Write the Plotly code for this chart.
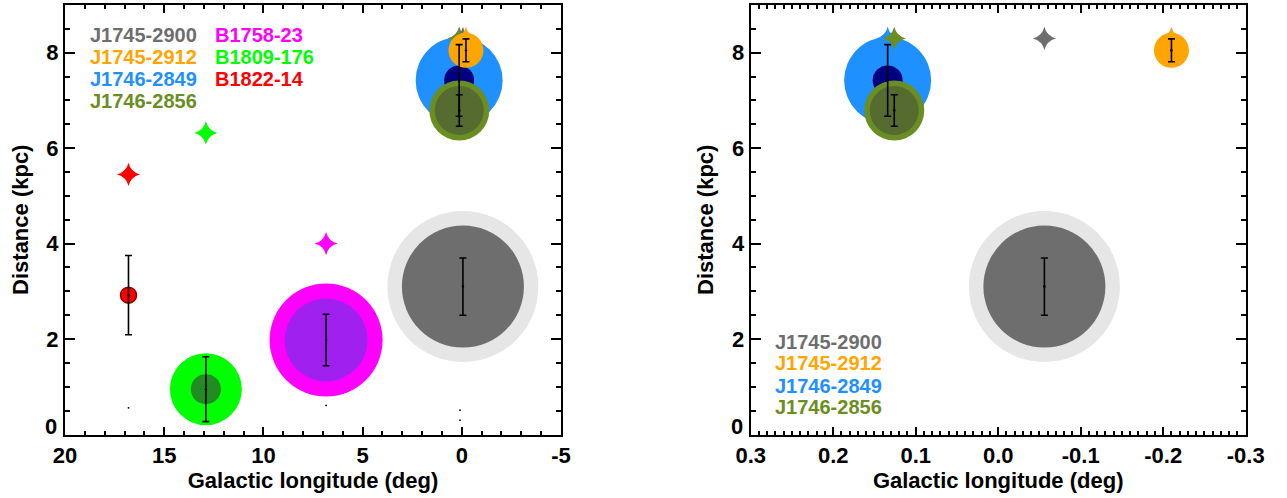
import plotly.graph_objects as go

# ---------------- data ----------------
names = ["J1745-2900", "J1745-2912", "J1746-2849", "J1746-2856",
         "B1758-23", "B1809-176", "B1822-14"]
gal_lon = [-0.056, -0.21, 0.134, 0.126, 6.84, 12.9, 16.8]      # deg
dist = [3.1, 8.05, 7.42, 6.79, 1.98, 0.95, 2.92]                # kpc (circle centre)
dist_err = [0.6, 0.24, 0.75, 0.33, 0.54, 0.68, 0.83]            # kpc
star_dist = [8.3, 8.3, 8.3, 8.3, 4.0, 6.32, 5.45]               # kpc (star marker)

dot_lon = [16.8, 6.84, 0.09, 0.09]
dot_dist = [0.56, 0.61, 0.51, 0.30]

left_xticks = [20, 15, 10, 5, 0, -5]
left_xtext = ["20", "15", "10", "5", "0", "-5"]
right_xticks = [0.3, 0.2, 0.1, 0.0, -0.1, -0.2, -0.3]
right_xtext = ["0.3", "0.2", "0.1", "0.0", "-0.1", "-0.2", "-0.3"]
yticks = [0, 2, 4, 6, 8]
ytext = ["0", "2", "4", "6", "8"]

# ---------------- styles ----------------
FONT = "Liberation Sans, Arial, Helvetica, sans-serif"
text_color = ["#6e6e6e", "#ffa500", "#1e90ff", "#6b8e23", "#ff00ff", "#00ff00", "#ff0000"]
outer_color = ["#e6e6e6", "#ffa500", "#1e90ff", "#6b8e23", "#ff00ff", "#00ff00", "#ff0000"]
inner_color = ["#6e6e6e", None, "#000080", "#556b2f", "#a020f0", "#228b22", None]
star_color = ["#6e6e6e", "#ffa500", "#1e90ff", "#6b8e23", "#ff00ff", "#00ff00", "#ff0000"]
outer_size = [151, 35, 87, 60, 113, 72, 16]
inner_size = [122, 0, 30, 49, 83, 30, 0]
STAR_SIZE = 16.6
W, H = 1287, 498

fig = go.Figure()


def circle(i, xa, ya):
    line = dict(width=0)
    if names[i] == "B1822-14":
        line = dict(width=1.5, color="#8b0000")
    fig.add_trace(go.Scatter(x=[gal_lon[i]], y=[dist[i]], mode="markers", xaxis=xa, yaxis=ya,
                             marker=dict(size=outer_size[i], color=outer_color[i], line=line),
                             showlegend=False, hoverinfo="skip"))
    if inner_color[i] is not None and inner_size[i] > 0:
        fig.add_trace(go.Scatter(x=[gal_lon[i]], y=[dist[i]], mode="markers", xaxis=xa, yaxis=ya,
                                 marker=dict(size=inner_size[i], color=inner_color[i], line=dict(width=0)),
                                 showlegend=False, hoverinfo="skip"))


def star(i, xa, ya):
    fig.add_trace(go.Scatter(x=[gal_lon[i]], y=[star_dist[i]], mode="markers", xaxis=xa, yaxis=ya,
                             marker=dict(symbol="star-diamond", size=STAR_SIZE, color=star_color[i],
                                         line=dict(width=0)),
                             showlegend=False, hoverinfo="skip"))


def errbar(i, xa, ya):
    fig.add_trace(go.Scatter(x=[gal_lon[i]], y=[dist[i]], mode="markers", xaxis=xa, yaxis=ya,
                             marker=dict(size=2.5, color="black"),
                             error_y=dict(type="data", array=[dist_err[i]], color="black",
                                          thickness=1.6, width=3.5),
                             showlegend=False, hoverinfo="skip"))


for xa, ya, srcs in (("x", "y", range(7)), ("x2", "y2", range(4))):
    for i in (0, 2, 3):
        circle(i, xa, ya)
    for i in (0, 1, 2, 3):
        star(i, xa, ya)
    circle(1, xa, ya)
    if xa == "x":
        for i in (4, 5, 6):
            circle(i, xa, ya)
            star(i, xa, ya)
    for i in srcs:
        errbar(i, xa, ya)

fig.add_trace(go.Scatter(x=dot_lon, y=dot_dist, mode="markers", xaxis="x", yaxis="y",
                         marker=dict(size=1.8, color="black"), showlegend=False, hoverinfo="skip"))


def axis_common():
    return dict(showline=True, linecolor="black", linewidth=2, mirror="ticks",
                ticks="inside", tickcolor="black", tickwidth=1.5,
                showgrid=False, zeroline=False, automargin=False,
                tickfont=dict(family=FONT, size=22, color="black", weight="bold"))


title_font = dict(family=FONT, size=22, color="black", weight="bold")
tick_font = dict(family=FONT, size=22, color="black", weight="bold")

xl = axis_common()
xl.update(domain=[65 / W, 561 / W], range=[20, -5], anchor="y",
          tickmode="array", tickvals=left_xticks, ticktext=left_xtext, ticklen=8,
          minor=dict(ticks="inside", ticklen=4, tickwidth=1.5, tickcolor="black", dtick=1, tick0=0, showgrid=False),
          title=dict(text="Galactic longitude (deg)", font=title_font, standoff=4))
xr = axis_common()
xr.update(domain=[750.7 / W, 1245.7 / W], range=[0.3, -0.3], anchor="y2",
          tickmode="array", tickvals=right_xticks, ticktext=right_xtext, ticklen=8,
          minor=dict(ticks="inside", ticklen=4, tickwidth=1.5, tickcolor="black", dtick=0.01, tick0=0, showgrid=False),
          title=dict(text="Galactic longitude (deg)", font=title_font, standoff=4))

# the lowest y label ("0") is drawn slightly raised, as in the original, via an annotation
ytext_axis = ["" if t == "0" else t for t in ytext]
ydom = [1 - 434.5 / H, 1 - 5 / H]
yl = axis_common()
yl.update(domain=ydom, range=[0, 9], anchor="x", tickmode="array", tickvals=yticks, ticktext=ytext_axis,
          ticklen=10,
          minor=dict(ticks="inside", ticklen=5, tickwidth=1.5, tickcolor="black", dtick=0.5, tick0=0, showgrid=False),
          title=dict(text="Distance (kpc)", font=title_font, standoff=12))
yr = axis_common()
yr.update(domain=ydom, range=[0, 9], anchor="x2", tickmode="array", tickvals=yticks, ticktext=ytext_axis,
          ticklen=10,
          minor=dict(ticks="inside", ticklen=5, tickwidth=1.5, tickcolor="black", dtick=0.5, tick0=0, showgrid=False),
          title=dict(text="Distance (kpc)", font=title_font, standoff=12))

annotations = []
for xref, yref, xdom in (("x domain", "y", xl["domain"]), ("x2 domain", "y2", xr["domain"])):
    annotations.append(dict(text=ytext[0], x=0, y=yticks[0], xref=xref, yref=yref,
                            xanchor="right", yanchor="middle", xshift=-6, yshift=8,
                            showarrow=False, font=tick_font))

left_pos = [(88.3, 35), (88.3, 57.3), (88.3, 79.3), (88.3, 101),
            (212.7, 35), (212.7, 57.3), (212.7, 79.3)]
for i, (px, py) in enumerate(left_pos):
    annotations.append(dict(text=names[i], x=px / W, y=1 - py / H, xref="paper", yref="paper",
                            xanchor="left", yanchor="middle", showarrow=False,
                            font=dict(family=FONT, size=20, color=text_color[i], weight="bold")))
right_pos = [(773.3, 341.7), (773.3, 363.3), (773.3, 385.7), (773.3, 407.3)]
for i, (px, py) in enumerate(right_pos):
    annotations.append(dict(text=names[i], x=px / W, y=1 - py / H, xref="paper", yref="paper",
                            xanchor="left", yanchor="middle", showarrow=False,
                            font=dict(family=FONT, size=20, color=text_color[i], weight="bold")))

fig.update_layout(width=W, height=H, margin=dict(l=0, r=0, t=0, b=0, autoexpand=False),
                  paper_bgcolor="white", plot_bgcolor="white",
                  xaxis=xl, xaxis2=xr, yaxis=yl, yaxis2=yr,
                  annotations=annotations, showlegend=False)

fig.write_html("out.html", config={"displayModeBar": False},
               post_script="document.body.style.margin='0px';document.body.style.overflow='hidden';")
